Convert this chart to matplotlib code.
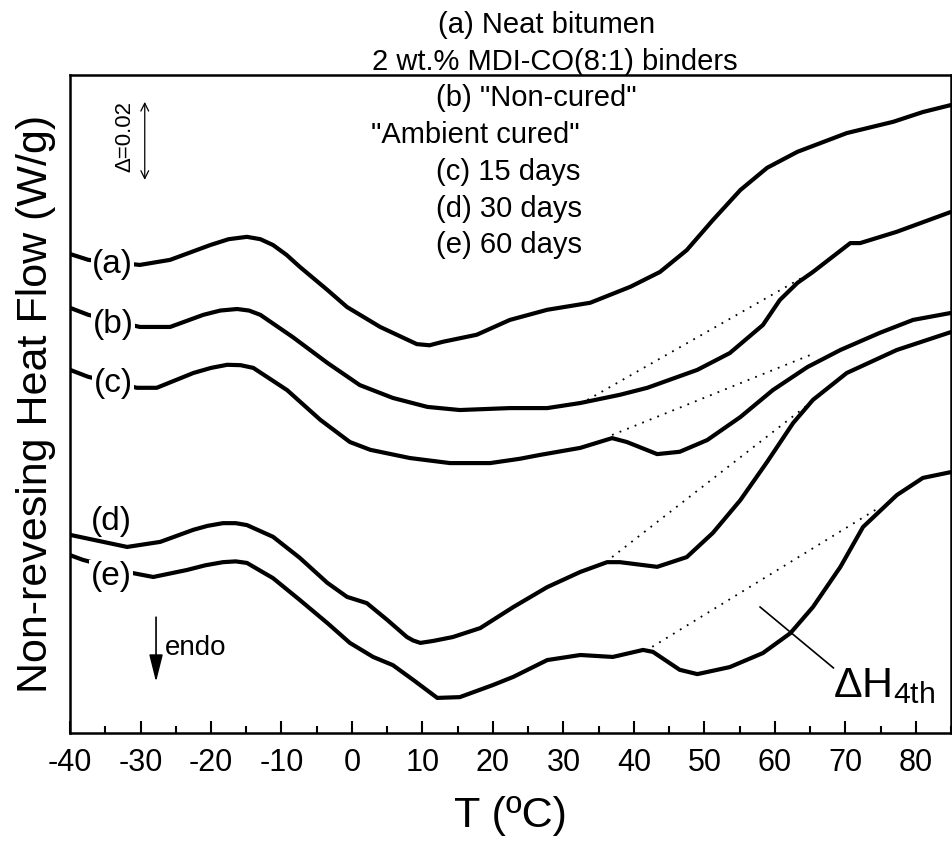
import matplotlib.pyplot as plt

plt.rcParams['font.family'] = ['Liberation Sans', 'DejaVu Sans']
plt.rcParams['axes.unicode_minus'] = False

# temperature (deg C) and non-reversing heat flow (W/g, offset)
t_a = [-40, -37.4, -30.1, -25.8, -20.1, -17.5, -14.9, -13.0, -11.2, -9.3, -7.4, -3.5, -0.7,
       4.0, 9.2, 11.0, 12.9, 17.7, 22.4, 27.7, 33.8, 39.5, 43.7, 47.5, 51.2, 55.1, 58.9,
       63.2, 70.2, 76.8, 81.0, 85.0]
hf_a = [0.1228, 0.1213, 0.1200, 0.1213, 0.1251, 0.1266, 0.1272, 0.1266, 0.1251, 0.1226,
        0.1195, 0.1136, 0.1092, 0.1041, 0.0997, 0.0994, 0.1003, 0.1021, 0.1059, 0.1085,
        0.1103, 0.1144, 0.1182, 0.1238, 0.1315, 0.1392, 0.1449, 0.1490, 0.1538, 0.1567,
        0.1592, 0.1610]

t_b = [-40, -37.4, -30.1, -25.8, -21.1, -18.7, -16.3, -14.6, -13.0, -8.4, -3.5, 1.1, 5.8,
       10.7, 15.3, 22.4, 27.7, 32.4, 38.0, 41.9, 49.0, 53.6, 58.3, 60.7, 63.2, 65.4, 70.7,
       72.1, 77.3, 85.0]
hf_b = [0.1090, 0.1072, 0.1041, 0.1041, 0.1072, 0.1083, 0.1087, 0.1083, 0.1072, 0.1015,
        0.0949, 0.0892, 0.0859, 0.0836, 0.0828, 0.0833, 0.0833, 0.0846, 0.0867, 0.0885,
        0.0931, 0.0974, 0.1046, 0.1110, 0.1154, 0.1182, 0.1256, 0.1256, 0.1285, 0.1336]

t_c = [-40, -37.4, -30.5, -27.7, -22.5, -20.0, -17.7, -15.8, -14.0, -9.2, -4.5, -0.3, 2.6,
       8.2, 13.9, 19.6, 23.8, 26.7, 32.4, 36.9, 39.0, 43.3, 46.5, 50.4, 55.1, 59.7, 64.6,
       69.3, 74.9, 79.6, 85.0]
hf_c = [0.0931, 0.0913, 0.0885, 0.0885, 0.0923, 0.0936, 0.0944, 0.0943, 0.0936, 0.0879,
        0.0803, 0.0746, 0.0726, 0.0705, 0.0692, 0.0692, 0.0703, 0.0713, 0.0731, 0.0756,
        0.0746, 0.0715, 0.0721, 0.0751, 0.0810, 0.0879, 0.0938, 0.0982, 0.1026, 0.1059,
        0.1077]

t_d = [-40, -31.9, -27.2, -22.5, -20.5, -18.3, -16.5, -14.9, -11.2, -7.4, -3.5, -0.7, 2.1,
       5.0, 7.8, 8.7, 9.7, 11.5, 14.3, 18.2, 22.9, 27.7, 32.4, 36.2, 38.0, 43.3, 47.5, 51.2,
       55.1, 58.9, 62.6, 65.4, 70.2, 77.3, 85.0]
hf_d = [0.0508, 0.0477, 0.0490, 0.0521, 0.0531, 0.0538, 0.0538, 0.0533, 0.0503, 0.0449,
        0.0385, 0.0349, 0.0333, 0.0290, 0.0246, 0.0237, 0.0231, 0.0236, 0.0246, 0.0269,
        0.0323, 0.0374, 0.0413, 0.0438, 0.0438, 0.0426, 0.0451, 0.0513, 0.0597, 0.0695,
        0.0795, 0.0854, 0.0923, 0.0982, 0.1028]

t_e = [-40, -38.2, -31.1, -28.2, -23.4, -20.8, -18.3, -16.5, -14.9, -11.2, -7.4, -3.5, -0.3,
       3.0, 5.8, 8.7, 12.1, 15.3, 20.0, 22.9, 27.7, 32.4, 37.0, 41.3, 42.7, 46.5, 49.0,
       53.6, 58.3, 62.2, 65.4, 69.3, 72.5, 77.3, 81.0, 85.0]
hf_e = [0.0456, 0.0444, 0.0410, 0.0400, 0.0418, 0.0430, 0.0438, 0.0440, 0.0436, 0.0397,
        0.0341, 0.0282, 0.0231, 0.0195, 0.0174, 0.0136, 0.0090, 0.0092, 0.0123, 0.0144,
        0.0187, 0.0200, 0.0195, 0.0213, 0.0208, 0.0162, 0.0151, 0.0169, 0.0205, 0.0256,
        0.0323, 0.0426, 0.0528, 0.0610, 0.0654, 0.0669]

curves = [(t_a, hf_a), (t_b, hf_b), (t_c, hf_c), (t_d, hf_d), (t_e, hf_e)]
labels = ['(a)', '(b)', '(c)', '(d)', '(e)']
label_t = [-34.0, -33.9, -33.9, -34.1, -34.2]
label_hf = [0.1200, 0.1046, 0.0895, 0.0541, 0.0400]

# dotted baselines under the 4th transition (start T, end T, start HF, end HF)
base_t = [(33.4, 65.0), (36.9, 65.0), (36.9, 65.0), (42.6, 74.9)]
base_hf = [(0.0854, 0.1179), (0.0764, 0.0969), (0.0451, 0.0846), (0.0221, 0.0579)]

fig = plt.figure(figsize=(9.53, 8.48), dpi=100)
ax = fig.add_axes([0.0735, 0.1356, 0.9245, 0.776])

for t, hf in curves:
    ax.plot(t, hf, color='black', lw=3, solid_joinstyle='round', solid_capstyle='round', zorder=2)

for (t0, t1), (h0, h1) in zip(base_t, base_hf):
    ax.plot([t0, t1], [h0, h1], color='black', lw=1.3, linestyle=(0, (1, 3.5)), zorder=1)

for i, lab in enumerate(labels):
    box = None if lab == '(d)' else dict(facecolor='white', edgecolor='none', pad=1)
    ax.text(label_t[i], label_hf[i], lab, fontsize=24, ha='center', va='center',
            bbox=box, zorder=3)

# scale bar
ax.annotate('', xy=(-29.4, 0.1618), xytext=(-29.4, 0.1418),
            arrowprops=dict(arrowstyle='<->', lw=0.9, color='black', mutation_scale=14,
                            shrinkA=0, shrinkB=0))
ax.text(-32.2, 0.1528, 'Δ=0.02', rotation=90, fontsize=16, ha='center', va='center')

# endo arrow
ax.annotate('', xy=(-27.8, 0.0131), xytext=(-27.8, 0.0297),
            arrowprops=dict(arrowstyle='-|>,head_length=1.2,head_width=0.3', lw=1.2,
                            color='black', mutation_scale=14, shrinkA=0, shrinkB=0))
ax.text(-26.6, 0.0200, 'endo', fontsize=20, ha='left', va='baseline')

# delta H annotation
ax.plot([57.9, 68.3], [0.0323, 0.0167], color='black', lw=1.2)
ax.text(68.2, 0.0092, 'ΔH$_\\mathregular{4th}$', fontsize=31, ha='left', va='baseline')

# header text
fig.text(547 / 953, 1 - 33 / 848, '(a) Neat bitumen', fontsize=21, ha='center', va='baseline')
fig.text(555 / 953, 1 - 70 / 848, '2 wt.% MDI-CO(8:1) binders', fontsize=21, ha='center', va='baseline')
fig.text(637 / 953, 1 - 106 / 848, '(b) "Non-cured"', fontsize=21, ha='right', va='baseline')
fig.text(580 / 953, 1 - 143 / 848, '"Ambient cured"', fontsize=21, ha='right', va='baseline')
fig.text(580 / 953, 1 - 180 / 848, '(c) 15 days', fontsize=21, ha='right', va='baseline')
fig.text(582 / 953, 1 - 217 / 848, '(d) 30 days', fontsize=21, ha='right', va='baseline')
fig.text(582 / 953, 1 - 253 / 848, '(e) 60 days', fontsize=21, ha='right', va='baseline')

ax.set_xlim(-40, 85)
ax.set_ylim(0, 0.1687)
ax.set_xticks(range(-40, 81, 10))
ax.set_xticks(range(-35, 86, 10), minor=True)
ax.set_yticks([])
ax.tick_params(axis='x', which='major', direction='in', length=9, width=1.5,
               labelsize=22, pad=11)
ax.tick_params(axis='x', which='minor', direction='in', length=5, width=1.5)
for s in ax.spines.values():
    s.set_linewidth(1.8)

ax.set_xlabel('T (ºC)', fontsize=31, labelpad=13)
ax.set_ylabel('Non-revesing Heat Flow (W/g)', fontsize=31, labelpad=10)

fig.savefig('out.png', dpi=100)
